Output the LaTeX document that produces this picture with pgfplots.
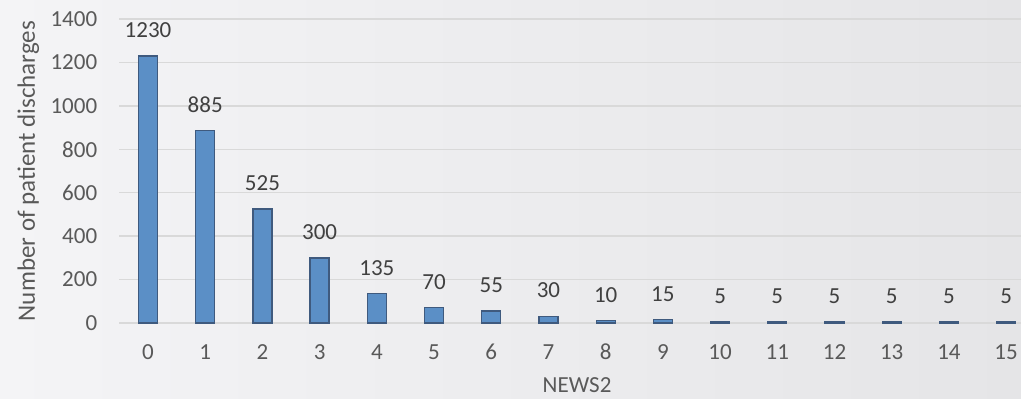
\documentclass[border=0pt]{standalone}
\usepackage{pgfplots}
\pgfplotsset{compat=1.18}
\usepackage{fontspec}
\setmainfont{Carlito}
\definecolor{barfill}{HTML}{5B8FC6}
\definecolor{barline}{HTML}{3F5A7E}
\definecolor{gridc}{HTML}{D9D9D9}
\definecolor{tickc}{HTML}{595959}
\definecolor{labc}{HTML}{404040}
\definecolor{bgl}{HTML}{F4F4F6}
\definecolor{bgr}{HTML}{E5E5E7}
\begin{document}
\begin{tikzpicture}[x=1pt,y=1pt]
\useasboundingbox (-119.4,-76) rectangle (901.6,323);
\fill[left color=bgl, right color=bgr] (-119.4,-76) rectangle (901.6,323);
\begin{axis}[
  at={(0,0)}, anchor=south west,
  scale only axis, width=901.6pt, height=304pt,
  xmin=-0.5, xmax=15.26, ymin=0, ymax=1400,
  axis line style={draw=none},
  ybar, bar width=19pt,
  xtick=data, ytick={0,200,...,1400},
  /pgf/number format/assume math mode=true,
  /pgf/number format/1000 sep={},
  major tick length=0pt,
  ymajorgrids, grid style={gridc, line width=1.3pt},
  font=\fontsize{23}{27}\selectfont,
  tick label style={tickc, inner sep=0pt, font=\fontsize{23}{27}\selectfont},
  yticklabel style={anchor=east, xshift=-22pt},
  xticklabel style={anchor=center, yshift=-29pt},
  ylabel={Number of patient discharges},
  ylabel style={at={(axis description cs:0,0.5)}, anchor=center, yshift=91pt, tickc, font=\fontsize{25}{29}\selectfont},
  xlabel={NEWS2},
  xlabel style={at={(axis cs:7.5,0)}, anchor=center, yshift=-62pt, tickc},
  nodes near coords,
  nodes near coords style={anchor=center, yshift=26pt, labc, inner sep=0pt, font=\fontsize{23}{27}\selectfont},
  point meta=explicit symbolic,
  clip=false,
]
\addplot[fill=barfill, draw=barline, line width=1.3pt] table[meta=l] {
x y l
0 1230 1230
1 885 885
2 525 525
3 300 300
4 135 135
5 70 70
6 55 55
7 30 30
8 10 10
9 15 15
10 5 5
11 5 5
12 5 5
13 5 5
14 5 5
15 5 5
};
\end{axis}
\end{tikzpicture}
\end{document}
